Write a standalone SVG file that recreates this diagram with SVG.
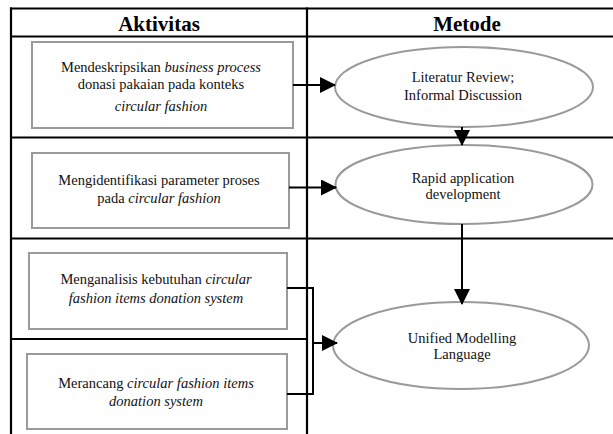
<svg xmlns="http://www.w3.org/2000/svg" width="613" height="434" viewBox="0 0 613 434">
<defs>
<style>
.grid{stroke:#000;stroke-width:2.2;fill:none}
.box{fill:#fff;stroke:#9a9a9a;stroke-width:2}
.ell{fill:#fff;stroke:#9a9a9a;stroke-width:2}
text{font-family:'Liberation Serif','DejaVu Serif',serif}
.t{font-size:14.5px;fill:#111;text-anchor:middle}
.h{font-size:21px;font-weight:bold;fill:#000;text-anchor:middle}
.i{font-style:italic}
.c{stroke:#000;stroke-width:2;fill:none}
</style>
<marker id="ahb" markerWidth="16" markerHeight="16" refX="15" refY="8" orient="auto" markerUnits="userSpaceOnUse" viewBox="0 0 16 16">
<path d="M0,0 L16,8 L0,16 Z" fill="#000"/>
</marker>
</defs>
<rect width="613" height="434" fill="#fff"/>
<g id="table">
<line class="grid" x1="10" y1="8.5" x2="613" y2="8.5"/>
<line class="grid" x1="10" y1="36.5" x2="613" y2="36.5"/>
<line class="grid" x1="10" y1="137.5" x2="613" y2="137.5"/>
<line class="grid" x1="10" y1="238.5" x2="613" y2="238.5"/>
<line class="grid" x1="10" y1="339" x2="307" y2="339"/>
<line class="grid" x1="11" y1="7.5" x2="11" y2="434"/>
<line class="grid" x1="307" y1="7.5" x2="307" y2="434"/>
<text class="h" x="159" y="31" font-family="Liberation Serif, serif">Aktivitas</text>
<text class="h" x="467" y="31" font-family="Liberation Serif, serif">Metode</text>
</g>
<g id="box1">
<rect class="box" x="32" y="42" width="261" height="86"/>
<text class="t" x="161" y="72" font-family="Liberation Serif, serif">Mendeskripsikan <tspan class="i">business process</tspan></text>
<text class="t" x="161" y="89" font-family="Liberation Serif, serif">donasi pakaian pada konteks</text>
<text class="t i" x="161" y="111" font-family="Liberation Serif, serif">circular fashion</text>
</g>
<g id="box2">
<rect class="box" x="32" y="153" width="257" height="75"/>
<text class="t" x="159" y="185" font-family="Liberation Serif, serif">Mengidentifikasi parameter proses</text>
<text class="t" x="159" y="203" font-family="Liberation Serif, serif">pada <tspan class="i">circular fashion</tspan></text>
</g>
<g id="box3">
<rect class="box" x="29" y="253" width="258" height="76"/>
<text class="t" x="156" y="284" font-family="Liberation Serif, serif">Menganalisis kebutuhan <tspan class="i">circular</tspan></text>
<text class="t i" x="156" y="303" font-family="Liberation Serif, serif">fashion items donation system</text>
</g>
<g id="box4">
<rect class="box" x="27" y="354" width="260" height="75"/>
<text class="t" x="156" y="388" font-family="Liberation Serif, serif">Merancang <tspan class="i">circular fashion items</tspan></text>
<text class="t i" x="156" y="406" font-family="Liberation Serif, serif">donation system</text>
</g>
<g id="ell1">
<ellipse class="ell" cx="464" cy="87" rx="129" ry="40"/>
<text class="t" x="463" y="82" font-family="Liberation Serif, serif">Literatur Review;</text>
<text class="t" x="463" y="100" font-family="Liberation Serif, serif">Informal Discussion</text>
</g>
<g id="ell2">
<ellipse class="ell" cx="464" cy="184.5" rx="128.5" ry="39.5"/>
<text class="t" x="463" y="183" font-family="Liberation Serif, serif">Rapid application</text>
<text class="t" x="463" y="199" font-family="Liberation Serif, serif">development</text>
</g>
<g id="ell3">
<ellipse class="ell" cx="461" cy="345.5" rx="128" ry="43.5"/>
<text class="t" x="462" y="343" font-family="Liberation Serif, serif">Unified Modelling</text>
<text class="t" x="462" y="359" font-family="Liberation Serif, serif">Language</text>
</g>
<g id="connectors">
<line class="c" x1="293" y1="85" x2="335" y2="85" marker-end="url(#ahb)"/>
<line class="c" x1="462" y1="127" x2="462" y2="145" marker-end="url(#ahb)"/>
<line class="c" x1="289" y1="187.5" x2="336" y2="187.5" marker-end="url(#ahb)"/>
<line class="c" x1="462" y1="224" x2="462" y2="304" marker-end="url(#ahb)"/>
<path class="c" d="M287,288 H313 V394 H287"/>
<line class="c" x1="313" y1="343" x2="337" y2="343" marker-end="url(#ahb)"/>
</g>
</svg>
